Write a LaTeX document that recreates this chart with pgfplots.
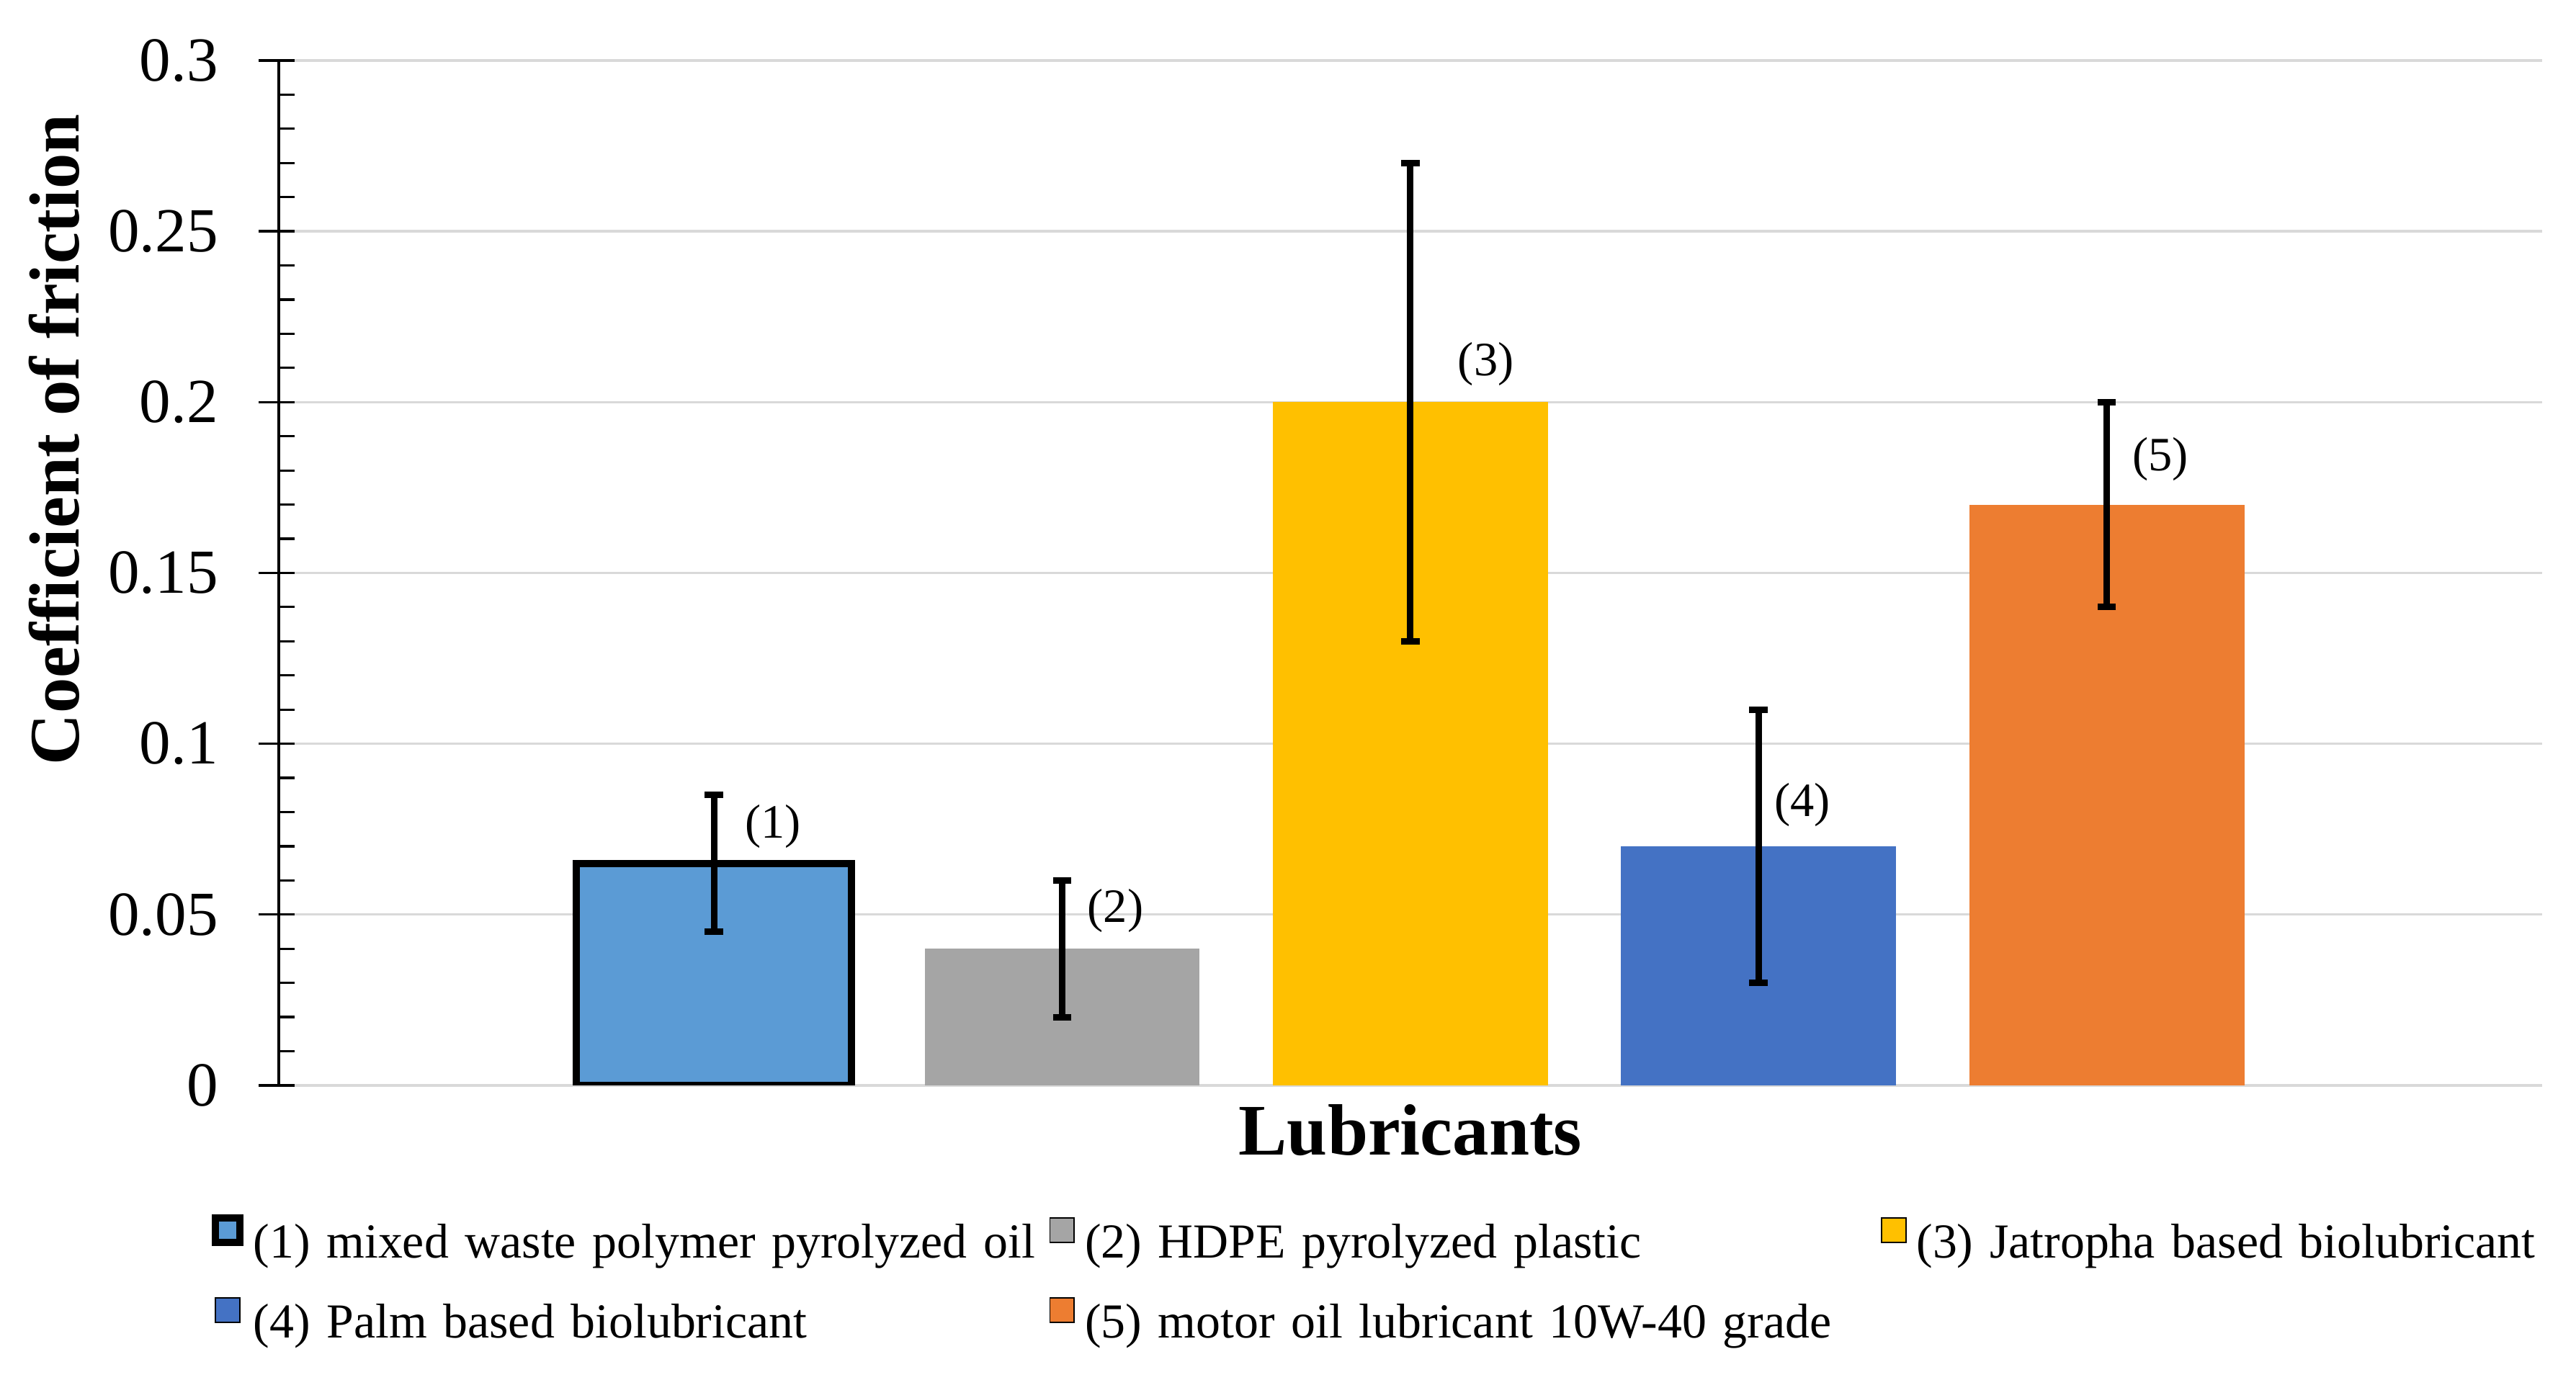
\documentclass[border=0pt]{standalone}
\usepackage{pgfplots}
\pgfplotsset{compat=1.18}
\usepackage{fontspec}
\setmainfont{Liberation Serif}

\definecolor{cA}{HTML}{5B9BD5}
\definecolor{cB}{HTML}{A5A5A5}
\definecolor{cC}{HTML}{FFC000}
\definecolor{cD}{HTML}{4472C4}
\definecolor{cE}{HTML}{ED7D31}
\definecolor{gridgray}{HTML}{D9D9D9}

\pgfplotsset{
  % one bar per series, label offset (dx,dy) from the bar top
  cbar/.style n args={3}{ybar, bar width=0.79, bar shift=0pt, fill=#1, draw=none,
    error bars/y dir=both, error bars/y explicit,
    error bars/error bar style={line width=2pt, black},
    error bars/error mark options={rotate=90, mark size=2.8pt, line width=2pt, black},
    every node near coord/.append style={anchor=west, xshift=#2, yshift=#3,
      inner sep=0pt, black, font=\fontsize{14.5}{16}\selectfont},
    legend image code/.code={\draw[##1] (0pt,0.9pt) rectangle (7.4pt,8.3pt);},
  },
}

\begin{document}
\begin{tikzpicture}
\path[use as bounding box] (-84.4pt,-89.2pt) rectangle (695.6pt,328.7pt);
\begin{axis}[
  width=685.3pt, height=310.4pt, scale only axis,
  xmin=-0.25, xmax=6.25, ymin=0, ymax=0.3,
  separate axis lines,
  axis y line*=left, axis x line*=bottom,
  x axis line style={draw=none},
  y axis line style={black, line width=0.7pt},
  xtick=\empty,
  ytick distance=0.05,
  ymajorgrids,
  major grid style={gridgray, line width=0.7pt},
  tick align=outside, major tick length=6pt,
  tick style={black, line width=0.7pt},
  extra y ticks={0,0.01,0.02,0.03,0.04,0.05,0.06,0.07,0.08,0.09,0.1,0.11,0.12,0.13,0.14,0.15,0.16,0.17,0.18,0.19,0.2,0.21,0.22,0.23,0.24,0.25,0.26,0.27,0.28,0.29,0.3},
  extra y tick labels={},
  extra y tick style={grid=none, tick align=inside, major tick length=4.8pt},
  /pgf/number format/fixed, /pgf/number format/precision=2,
  /pgf/number format/assume math mode=true,
  yticklabel style={font=\fontsize{19}{21}\selectfont, inner xsep=0pt, xshift=-12.2pt},
  ylabel={Coefficient of friction},
  ylabel style={at={(axis description cs:-0.0993,0.63)}, anchor=center,
    font=\bfseries\fontsize{21.5}{24}\selectfont},
  xlabel={Lubricants},
  xlabel style={at={(axis description cs:0.5,0)}, anchor=center, yshift=-13.5pt,
    font=\bfseries\fontsize{22}{24}\selectfont},
  legend columns=3,
  legend style={at={(axis description cs:-0.0299,-0.125)}, anchor=north west,
    draw=none, fill=none, inner sep=0pt, column sep=0pt, row sep=8.5pt,
    /tikz/every odd column/.append style={column sep=3pt},
    font=\fontsize{14.8}{17}\selectfont,
    nodes={text width=241pt, align=left, inner sep=0pt, text height=11pt, text depth=3.5pt}},
]
\addplot[cbar={cA}{8.3pt}{11.2pt}, draw=black, line width=2.2pt, nodes near coords={(1)}]
  coordinates {(1,0.065) +- (0,0.02)};
\addlegendentry{(1) mixed waste polymer pyrolyzed oil}
\addplot[cbar={cB}{7.5pt}{11.4pt}, nodes near coords={(2)}]
  coordinates {(2,0.04) +- (0,0.02)};
\addlegendentry{(2) HDPE pyrolyzed plastic}
\addplot[cbar={cC}{14.2pt}{11.6pt}, nodes near coords={(3)}]
  coordinates {(3,0.2) +- (0,0.07)};
\addlegendentry{(3) Jatropha based biolubricant}
\addplot[cbar={cD}{4.6pt}{12.6pt}, nodes near coords={(4)}]
  coordinates {(4,0.07) +- (0,0.04)};
\addlegendentry{(4) Palm based biolubricant}
\addplot[cbar={cE}{7.6pt}{13.7pt}, nodes near coords={(5)}]
  coordinates {(5,0.17) +- (0,0.03)};
\addlegendentry{(5) motor oil lubricant 10W-40 grade}
\end{axis}
\end{tikzpicture}
\end{document}
